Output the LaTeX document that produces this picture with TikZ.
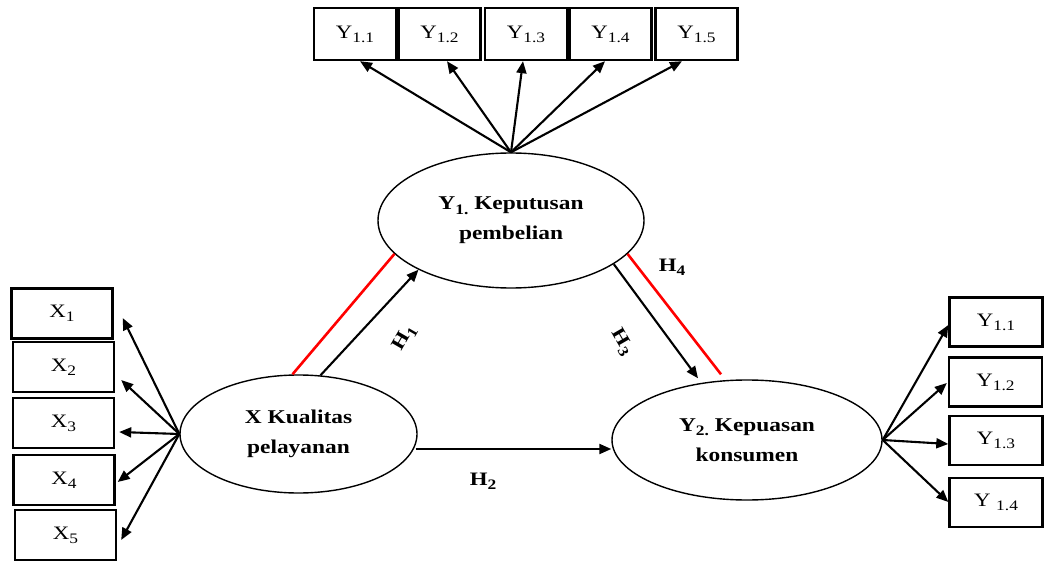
\documentclass[tikz,border=0pt]{standalone}
\usepackage{fontspec}
\setmainfont[FakeStretch=1.2]{Liberation Serif}
\usetikzlibrary{shapes.geometric,arrows.meta}
\newcommand{\subt}[1]{\raisebox{-0.22em}{\fontsize{14.5}{14.5}\selectfont #1}}
\begin{document}
\begin{tikzpicture}[x=1pt,y=-1pt,
  box/.style={draw, line width=2.4pt, inner sep=0pt, font=\fontsize{19}{19}\selectfont},
  tbox/.style={box, minimum width=82pt, minimum height=52pt},
  lbox/.style={box, minimum width=101pt, minimum height=50pt},
  rbox/.style={box, minimum width=93pt, minimum height=49pt},
  lat/.style={ellipse, draw, line width=1.4pt, inner sep=0pt, align=center, font=\bfseries\fontsize{19.5}{30}\selectfont},
  arr/.style={line width=2.1pt, -{Triangle[length=12pt,width=10pt]}},
  redl/.style={red, line width=2.6pt},
  hlab/.style={font=\bfseries\fontsize{19}{19}\selectfont, inner sep=0pt}
]
\useasboundingbox (0,0) rectangle (1044,561);
% latent variables
\node[lat, minimum width=266pt, minimum height=135pt] (y1) at (511,220.5) {Y\subt{1.} Keputusan\\pembelian};
\node[lat, minimum width=237pt, minimum height=118pt] (x) at (298.5,434) {X Kualitas\\pelayanan};
\node[lat, minimum width=270pt, minimum height=120pt] (y2) at (747,440) {Y\subt{2.} Kepuasan\\konsumen};
% top indicators
\node[tbox] (b1) at (355,34) {Y\subt{1.1}};
\node[tbox] (b2) at (439.5,34) {Y\subt{1.2}};
\node[tbox] (b3) at (526,34) {Y\subt{1.3}};
\node[tbox] (b4) at (610.5,34) {Y\subt{1.4}};
\node[tbox] (b5) at (696.5,34) {Y\subt{1.5}};
% left indicators
\node[lbox] (x1) at (62,313.5) {X\subt{1}};
\node[lbox] (x2) at (63.5,367) {X\subt{2}};
\node[lbox] (x3) at (63.5,423) {X\subt{3}};
\node[lbox] (x4) at (64,480) {X\subt{4}};
\node[lbox] (x5) at (65.5,535) {X\subt{5}};
% right indicators
\node[rbox] (r1) at (996,322) {Y\subt{1.1}};
\node[rbox] (r2) at (995.5,382) {Y\subt{1.2}};
\node[rbox] (r3) at (996,440.5) {Y\subt{1.3}};
\node[rbox] (r4) at (996,502.5) {Y \subt{1.4}};
% top arrows
\draw[arr] (y1.north) -- ([shift={(5,0)}]b1.south);
\draw[arr] (y1.north) -- ([shift={(7.5,0)}]b2.south);
\draw[arr] (y1.north) -- ([shift={(-3,0)}]b3.south);
\draw[arr] (y1.north) -- ([shift={(-5.5,0)}]b4.south);
\draw[arr] (y1.north) -- ([shift={(-14.5,0)}]b5.south);
% left arrows
\draw[arr] (x.west) -- ([shift={(9,4.5)}]x1.east);
\draw[arr] (x.west) -- ([shift={(6,13)}]x2.east);
\draw[arr] (x.west) -- ([shift={(4,9)}]x3.east);
\draw[arr] (x.west) -- ([shift={(2,2)}]x4.east);
\draw[arr] (x.west) -- ([shift={(4,5)}]x5.east);
% right arrows
\draw[arr] (y2.east) -- ([shift={(0,3)}]r1.west);
\draw[arr] (y2.east) -- ([shift={(-1,1)}]r2.west);
\draw[arr] (y2.east) -- ([shift={(0,3.5)}]r3.west);
\draw[arr] (y2.east) -- ([shift={(0,-0.5)}]r4.west);
% structural paths
\draw[arr] ([shift={(22,1)}]x.north) -- (y1.208);
\draw[redl] ([shift={(-6,0)}]x.north) -- (y1.196);
\coordinate (h2s) at ([shift={(-2,15)}]x.east);
\draw[arr] (h2s) -- (h2s -| y2.west);
\draw[arr] (y1.-23) -- ([shift={(-49,-1)}]y2.north);
\draw[redl] (y1.-16) -- ([shift={(-26,-5)}]y2.north);
% hypothesis labels
\node[hlab, rotate=60] (h1) at (405,338) {H\subt{1}};
\node[hlab] (h2) at (483,481) {H\subt{2}};
\node[hlab, rotate=-60] (h3) at (622,342) {H\subt{3}};
\node[hlab] (h4) at (672,267) {H\subt{4}};
\end{tikzpicture}
\end{document}
